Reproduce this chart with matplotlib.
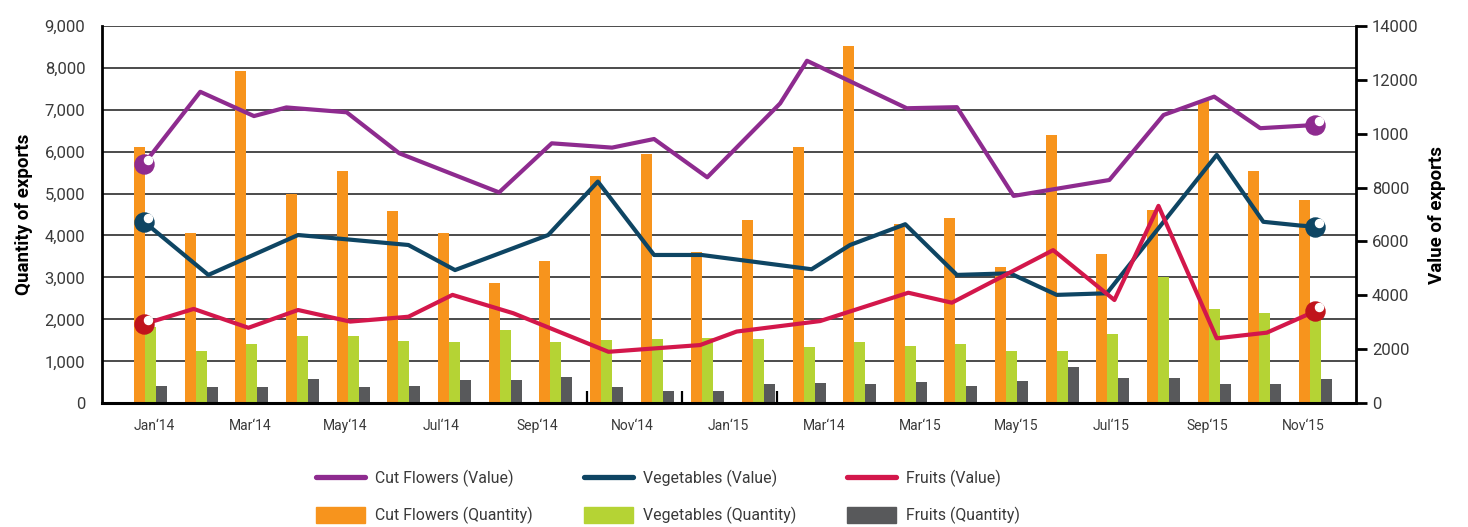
import numpy as np
import matplotlib
matplotlib.use('Agg')
import matplotlib.pyplot as plt
import matplotlib.transforms as mtransforms
from matplotlib.lines import Line2D
from matplotlib.patches import Patch

plt.rcParams['font.family'] = ['Roboto', 'DejaVu Sans']

# --- data ---
months = ['Jan‘14', 'Feb‘14', 'Mar‘14', 'Apr‘14', 'May‘14', 'Jun‘14', 'Jul‘14', 'Aug‘14',
          'Sep‘14', 'Oct‘14', 'Nov‘14', 'Dec‘14', 'Jan‘15', 'Feb‘15', 'Mar‘15', 'Apr‘15',
          'May‘15', 'Jun‘15', 'Jul‘15', 'Aug‘15', 'Sep‘15', 'Oct‘15', 'Nov‘15', 'Dec‘15']
tick_labels = ['Jan‘14', 'Mar‘14', 'May‘14', 'Jul‘14', 'Sep‘14', 'Nov‘14', 'Jan‘15',
               'Mar‘14', 'Mar‘15', 'May‘15', 'Jul‘15', 'Sep‘15', 'Nov‘15']

cut_qty = [6100, 4050, 7920, 5000, 5540, 4580, 4050, 2870, 3390, 5420, 5940, 3600,
           4360, 6100, 8510, 4270, 4410, 3250, 6400, 3560, 4610, 7200, 5540, 4850]
veg_qty = [1830, 1250, 1410, 1600, 1600, 1490, 1460, 1750, 1460, 1510, 1530, 1560,
           1530, 1340, 1460, 1370, 1410, 1250, 1250, 1650, 3020, 2250, 2150, 2100]
fruit_qty = [410, 390, 390, 580, 390, 410, 560, 560, 630, 390, 290, 290,
             460, 480, 460, 510, 410, 530, 870, 600, 600, 460, 460, 580]

# value lines (x in month-index units, as drawn)
cut_val_x = [-0.13, 0.98, 2.04, 2.68, 3.87, 4.91, 6.88, 7.92, 9.11, 9.94, 10.99,
             12.43, 12.96, 14.93, 15.92, 17.04, 18.93, 20.0, 21.0, 21.91, 23.0]
cut_val = [8880, 11550, 10650, 10970, 10790, 9270, 7820, 9640, 9480, 9800, 8380,
           11120, 12700, 10940, 10980, 7690, 8280, 10690, 11370, 10200, 10320]
veg_val_x = [-0.13, 1.14, 2.91, 3.87, 5.09, 6.01, 7.85, 8.83, 9.94, 10.88, 13.05,
             13.81, 14.90, 15.92, 16.97, 17.89, 18.88, 21.05, 21.97, 22.70, 23.0]
veg_val = [6730, 4760, 6240, 6080, 5870, 4940, 6240, 8220, 5500, 5500, 4970,
           5870, 6640, 4760, 4820, 4020, 4080, 9210, 6730, 6590, 6550]
fruit_val_x = [-0.13, 0.85, 1.93, 2.91, 3.94, 5.09, 5.96, 7.16, 9.04, 10.85, 11.57,
               13.22, 14.96, 15.82, 17.82, 19.03, 19.90, 21.05, 22.04, 23.0]
fruit_val = [2940, 3500, 2800, 3460, 3030, 3210, 4020, 3340, 1910, 2160, 2660,
             3050, 4100, 3730, 5680, 3830, 7320, 2410, 2620, 3420]

left_ticks = [0, 1000, 2000, 3000, 4000, 5000, 6000, 7000, 8000, 9000]
right_ticks = [0, 2000, 4000, 6000, 8000, 10000, 12000, 14000]
right_tick_labels = ['0', '2000', '4000', '6000', '8000', '1000', '12000', '14000']

ORANGE = '#F7941D'
GREEN = '#B5D334'
DARK = '#58595B'
PURPLE = '#8E2B8F'
BLUE = '#0E4563'
RED = '#D3174B'
RED_DOT = '#C0141C'
TXT = '#3a3a3a'

fig = plt.figure(figsize=(14.68, 5.27), dpi=100)
ax = fig.add_axes([0.0695, 0.2347, 0.8542, 0.7165])
ax2 = ax.twinx()

x = np.arange(len(months))
w = 0.217
ax.bar(x - w, cut_qty, w, color=ORANGE, zorder=2)
ax.bar(x, veg_qty, w, color=GREEN, zorder=2)
ax.bar(x + w, fruit_qty, w, color=DARK, zorder=2)

ax.set_xlim(-0.96, 23.80)
ax.set_ylim(0, 9000)
ax.set_yticks(left_ticks)
ax.set_yticklabels([f'{v:,}' for v in left_ticks])
ax.yaxis.grid(True, color='#1a1a1a', linewidth=1.1)
ax.set_axisbelow(True)

ax.set_xticks(np.linspace(0.07, 22.75, 13))
ax.set_xticklabels(tick_labels)
ax.set_xticks([8.62, 10.49, 12.37], minor=True)
ax.tick_params(axis='x', which='major', length=0, pad=11, labelsize=10, labelcolor=TXT)
ax.tick_params(axis='x', which='minor', direction='in', length=9, width=1.6, color='black')
ax.tick_params(axis='y', length=0, pad=12, labelsize=12, labelcolor=TXT)

for s in ['top', 'right']:
    ax.spines[s].set_visible(False)
ax.spines['left'].set_linewidth(2)
ax.spines['bottom'].set_linewidth(2.2)

ax.set_ylabel('Quantity of exports', fontsize=13.5, fontweight='bold')
ax.yaxis.set_label_coords(-0.055, 0.5)

# value lines on right axis
lw = 3
ax2.plot(cut_val_x, cut_val, color=PURPLE, lw=lw, zorder=3)
ax2.plot(veg_val_x, veg_val, color=BLUE, lw=lw, zorder=3)
ax2.plot(fruit_val_x, fruit_val, color=RED, lw=lw, zorder=3)

# round end markers with a small white highlight
shine = mtransforms.offset_copy(ax2.transData, fig=fig, x=3.5, y=4, units='dots')
for xs, ys, c in [(cut_val_x, cut_val, PURPLE), (veg_val_x, veg_val, BLUE),
                  (fruit_val_x, fruit_val, RED_DOT)]:
    ends_x = [xs[0], xs[-1]]
    ends_y = [ys[0], ys[-1]]
    ax2.plot(ends_x, ends_y, 'o', ms=13.7, color=c, mec=c, zorder=4)
    ax2.plot(ends_x, ends_y, 'o', ms=5.8, color='white', mec='white', zorder=5,
             transform=shine)

ax2.set_ylim(0, 14000)
ax2.set_yticks(right_ticks)
ax2.set_yticklabels(right_tick_labels)
ax2.tick_params(axis='y', direction='out', length=8, width=2, pad=3.6, labelsize=12,
                labelcolor=TXT)
for s in ['top', 'left', 'bottom']:
    ax2.spines[s].set_visible(False)
ax2.spines['right'].set_linewidth(2)
ax2.set_ylabel('Value of exports', fontsize=13.5, fontweight='bold')
ax2.yaxis.set_label_coords(1.0574, 0.5)

handles = [
    Line2D([], [], color=PURPLE, lw=3.8, solid_capstyle='round'),
    Patch(color=ORANGE),
    Line2D([], [], color=BLUE, lw=3.8, solid_capstyle='round'),
    Patch(color=GREEN),
    Line2D([], [], color=RED, lw=3.8, solid_capstyle='round'),
    Patch(color=DARK),
]
labels = ['Cut Flowers (Value)', 'Cut Flowers (Quantity)',
          'Vegetables (Value)', 'Vegetables (Quantity)',
          'Fruits (Value)', 'Fruits (Quantity)']
leg = fig.legend(handles, labels, ncol=3, loc='upper left',
                 bbox_to_anchor=(0.2153, 0.1082), frameon=False, fontsize=11.4,
                 handlelength=3.1, handleheight=1.14, handletextpad=0.63,
                 columnspacing=3.2, labelspacing=1.23, borderpad=0, borderaxespad=0)
for t in leg.get_texts():
    t.set_color(TXT)

fig.savefig('out.png', dpi=100)
